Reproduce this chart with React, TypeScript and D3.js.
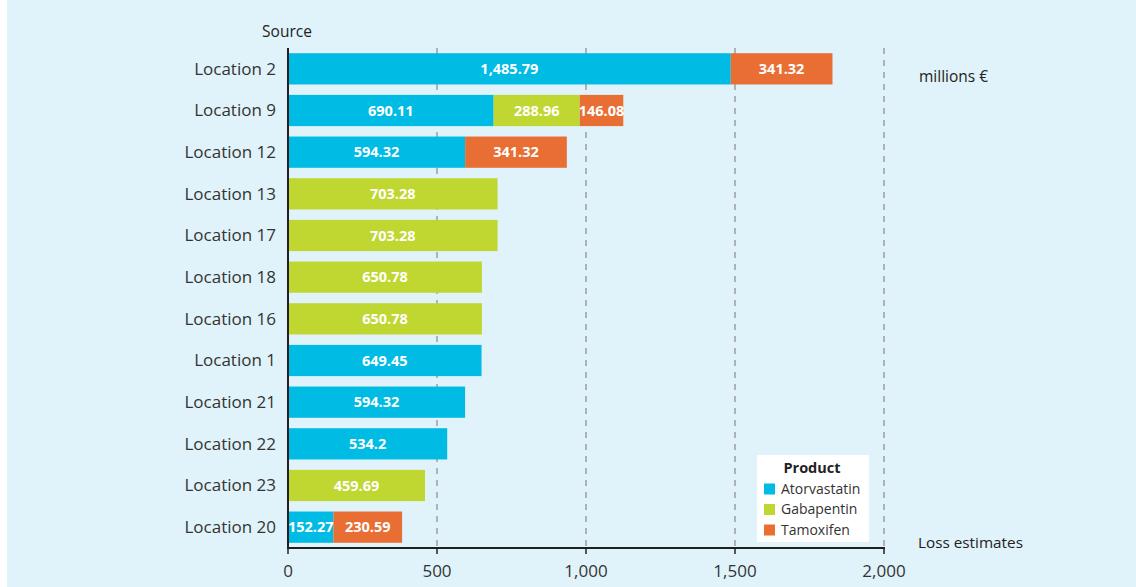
import * as d3 from "d3";

const locations = [
  "Location 2",
  "Location 9",
  "Location 12",
  "Location 13",
  "Location 17",
  "Location 18",
  "Location 16",
  "Location 1",
  "Location 21",
  "Location 22",
  "Location 23",
  "Location 20",
];
const products = ["Atorvastatin", "Gabapentin", "Tamoxifen"];
const atorvastatin = [1485.79, 690.11, 594.32, 0, 0, 0, 0, 649.45, 594.32, 534.2, 0, 152.27];
const gabapentin = [0, 288.96, 0, 703.28, 703.28, 650.78, 650.78, 0, 0, 0, 459.69, 0];
const tamoxifen = [341.32, 146.08, 341.32, 0, 0, 0, 0, 0, 0, 0, 0, 230.59];
const xTicks = [0, 500, 1000, 1500, 2000];

const colors = ["#00bce4", "#bfd730", "#e96e34"];
const font = "'Open Sans', sans-serif";

export default function App() {
  const width = 1136;
  const height = 587;
  const marginLeft = 288;
  const marginTop = 48;
  const axisY = 548;

  const x = d3.scaleLinear([0, 2000], [marginLeft, 884]);
  const y = d3
    .scaleBand<string>()
    .domain(locations)
    .range([marginTop, axisY])
    .paddingInner(0.25)
    .paddingOuter(0.125);

  const table = locations.map((loc, i) => ({
    loc,
    Atorvastatin: atorvastatin[i],
    Gabapentin: gabapentin[i],
    Tamoxifen: tamoxifen[i],
  }));
  const series = d3.stack<any>().keys(products)(table);
  const fmt = d3.format(",");

  return (
    <>
      <style>{"body{margin:0}"}</style>
      <svg width={width} height={height} style={{ display: "block", fontFamily: font }}>
        <rect width={width} height={height} fill="#ffffff" />
        <rect x={7} width={width - 7} height={height} fill="#e0f3fa" />

        {/* grid */}
        <g stroke="#9a9fa3" strokeWidth={1.5} strokeDasharray="6,6">
          {xTicks.slice(1).map((t) => (
            <line key={t} x1={x(t)} x2={x(t)} y1={marginTop} y2={axisY} />
          ))}
        </g>

        {/* bars */}
        {series.map((s, si) => (
          <g key={s.key} fill={colors[si]}>
            {s.map((d, i) =>
              d[1] - d[0] > 0 ? (
                <rect
                  key={i}
                  x={x(d[0])}
                  y={y(locations[i])}
                  width={x(d[1]) - x(d[0])}
                  height={y.bandwidth()}
                />
              ) : null
            )}
          </g>
        ))}
        {series.map((s) => (
          <g key={s.key + "-lbl"} fill="#fff" fontWeight="bold" fontSize={14.5} textAnchor="middle">
            {s.map((d, i) =>
              d[1] - d[0] > 0 ? (
                <text
                  key={i}
                  x={(x(d[0]) + x(d[1])) / 2}
                  y={(y(locations[i]) ?? 0) + y.bandwidth() / 2}
                  dy="0.35em"
                >
                  {fmt(d[1] - d[0])}
                </text>
              ) : null
            )}
          </g>
        ))}

        {/* axes */}
        <line x1={marginLeft} x2={marginLeft} y1={marginTop} y2={axisY + 1} stroke="#231f20" strokeWidth={2} />
        <line x1={marginLeft - 1} x2={x(2000) + 1} y1={axisY} y2={axisY} stroke="#231f20" strokeWidth={2} />
        <g fontSize={17} fill="#333" textAnchor="middle">
          {xTicks.map((t) => (
            <g key={t}>
              <line x1={x(t)} x2={x(t)} y1={axisY} y2={axisY + 6} stroke="#231f20" strokeWidth={1.5} />
              <text x={x(t)} y={axisY + 23} dy="0.35em">
                {fmt(t)}
              </text>
            </g>
          ))}
        </g>
        <g fontSize={17} fill="#333" textAnchor="end">
          {locations.map((l) => (
            <text key={l} x={marginLeft - 12} y={(y(l) ?? 0) + y.bandwidth() / 2} dy="0.35em">
              {l}
            </text>
          ))}
        </g>

        <text x={287} y={32} dy="0.35em" fontSize={15.5} fill="#222" textAnchor="middle">
          Source
        </text>
        <text x={919} y={77} dy="0.35em" fontSize={15.5} fill="#222">
          millions €
        </text>
        <text x={918} y={543} dy="0.35em" fontSize={15.3} fill="#222">
          Loss estimates
        </text>

        {/* legend */}
        <g transform="translate(757,455)">
          <rect width={112} height={87} fill="#fff" />
          <text x={55} y={13} dy="0.35em" fontSize={14.5} fontWeight="bold" fill="#222" textAnchor="middle">
            Product
          </text>
          {products.map((p, i) => (
            <g key={p} transform={`translate(7,${34 + i * 20.5})`}>
              <rect x={0} y={-5.5} width={11} height={11} fill={colors[i]} />
              <text x={17} y={0} dy="0.35em" fontSize={14} fill="#333">
                {p}
              </text>
            </g>
          ))}
        </g>
      </svg>
    </>
  );
}
